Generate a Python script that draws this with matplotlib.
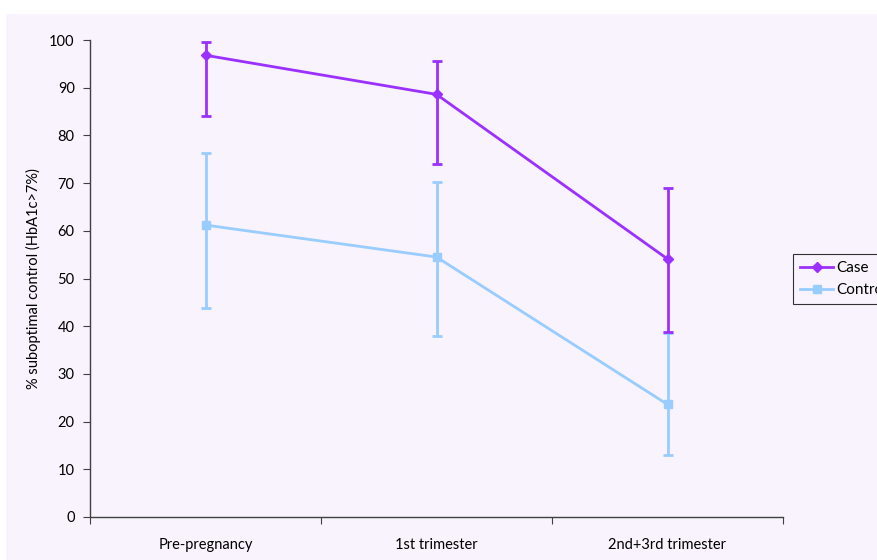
import matplotlib.pyplot as plt
from matplotlib.patches import Rectangle
from matplotlib.lines import Line2D

# --- Data ---
periods = ['Pre-pregnancy', '1st trimester', '2nd+3rd trimester']
case_pct = [96.8, 88.6, 54.1]
case_low = [84.0, 74.0, 38.8]
case_high = [99.5, 95.6, 69.0]
control_pct = [61.2, 54.5, 23.6]
control_low = [43.8, 38.0, 13.0]
control_high = [76.3, 70.2, 38.5]

BG = '#F8F3FD'
CASE_COLOR = '#9B30FF'
CONTROL_COLOR = '#99CCFF'

plt.rcParams['font.family'] = ['Lato', 'DejaVu Sans']

fig = plt.figure(figsize=(8.77, 5.6), dpi=100, facecolor='white')
# chart area background (leaves a thin white margin at top/left)
fig.patches.append(Rectangle((6 / 877, 0), 1, 1 - 14 / 560, transform=fig.transFigure,
                             facecolor=BG, edgecolor='none', zorder=-10))

ax = fig.add_axes([90 / 877, 43 / 560, 693 / 877, 477 / 560])
ax.patch.set_visible(False)

x = [i + 0.5 for i in range(len(periods))]


def draw_series(vals, low, high, color, marker, msize, z):
    yerr = [[v - l for v, l in zip(vals, low)], [h - v for v, h in zip(vals, high)]]
    ax.errorbar(x, vals, yerr=yerr, color=color, marker=marker, markersize=msize,
                linewidth=2, elinewidth=2, capsize=3.6, capthick=2, zorder=z)


draw_series(control_pct, control_low, control_high, CONTROL_COLOR, 's', 6, 2)
draw_series(case_pct, case_low, case_high, CASE_COLOR, 'D', 5, 3)

ax.set_xlim(0, 3)
ax.set_ylim(0, 100)
ax.set_yticks(range(0, 101, 10))
ax.set_xticks([0, 1, 2, 3])
ax.set_xticklabels([])
ax.set_xticks(x, minor=True)
ax.set_xticklabels(periods, minor=True)
ax.tick_params(axis='x', which='minor', length=0, pad=15, labelsize=10.5)
ax.tick_params(axis='x', which='major', direction='out', length=5, color='#404040')
ax.tick_params(axis='y', direction='out', length=5, color='#404040', labelsize=10.5, pad=6)

for side in ['top', 'right']:
    ax.spines[side].set_visible(False)
for side in ['left', 'bottom']:
    ax.spines[side].set_color('#404040')
    ax.spines[side].set_linewidth(1)

ax.set_ylabel('% suboptimal control (HbA1c>7%)', fontsize=10.5, labelpad=6)

legend_handles = [
    Line2D([], [], color=CASE_COLOR, marker='D', markersize=5, linewidth=2),
    Line2D([], [], color=CONTROL_COLOR, marker='s', markersize=6, linewidth=2),
]
leg = fig.legend(legend_handles, ['Case', 'Control'], loc='upper left',
                 bbox_to_anchor=(793 / 877, 1 - 254 / 560), frameon=True,
                 fontsize=11, fancybox=False, borderpad=0.45, handlelength=2.2,
                 handletextpad=0.2, labelspacing=0.55, borderaxespad=0)
leg.get_frame().set_edgecolor('black')
leg.get_frame().set_linewidth(0.8)
leg.get_frame().set_facecolor(BG)

fig.savefig('out.png', dpi=100, facecolor='white')
